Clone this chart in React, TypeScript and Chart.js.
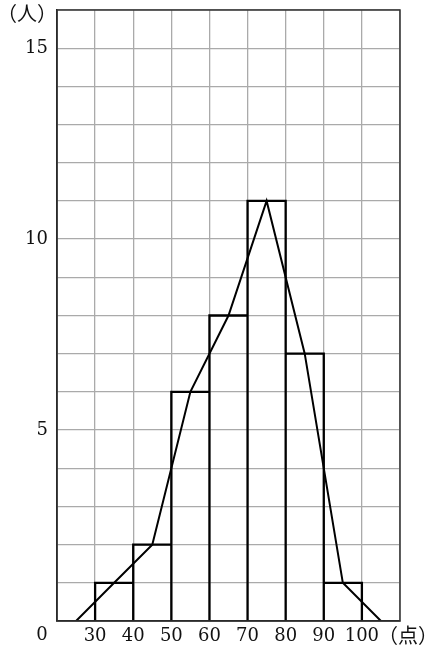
import { useEffect, useRef } from "react";
import Chart from "chart.js/auto";

// class marks (points) and number of people per 10-point class
const classMids = [35, 45, 55, 65, 75, 85, 95];
const counts = [1, 2, 6, 8, 11, 7, 1];
const classWidth = 10;

// frequency polygon, closed at the empty classes on each side
const polyX = [25, 35, 45, 55, 65, 75, 85, 95, 105];
const polyY = [0, 1, 2, 6, 8, 11, 7, 1, 0];

const xTickLabels = [30, 40, 50, 60, 70, 80, 90, 100];
const yTickLabels = [5, 10, 15];

const NUM_FONT = '"DejaVu Serif", "Noto Sans CJK JP", serif';
const CJK_FONT = '"Noto Sans CJK JP", "DejaVu Serif", sans-serif';

// outline of the histogram columns, traced bar by bar
const histOutline = classMids.flatMap((m, i) => {
  const lo = m - classWidth / 2;
  const hi = m + classWidth / 2;
  return [
    { x: lo, y: 0 },
    { x: lo, y: counts[i] },
    { x: hi, y: counts[i] },
    { x: hi, y: 0 },
  ];
});

const extraLabels = {
  id: "extraLabels",
  afterDraw(chart: Chart) {
    const { ctx, chartArea } = chart;
    ctx.save();
    // outer frame
    ctx.strokeStyle = "#333";
    ctx.lineWidth = 1.5;
    ctx.strokeRect(chartArea.left, chartArea.top, chartArea.right - chartArea.left, chartArea.bottom - chartArea.top);
    ctx.fillStyle = "#111";
    ctx.textBaseline = "middle";
    ctx.textAlign = "center";
    ctx.font = `18px ${NUM_FONT}`;
    ctx.fillText("0", chartArea.left - 15, chartArea.bottom + 14);
    ctx.font = `20px ${CJK_FONT}`;
    ctx.fillText("（点）", chartArea.right + 8, chartArea.bottom + 14);
    ctx.fillText("（人）", 27, 13);
    ctx.restore();
  },
};

const noPad = (s: any) => {
  s.paddingTop = 0;
  s.paddingBottom = 0;
  s.paddingLeft = 0;
  s.paddingRight = 0;
};

export default function App() {
  const ref = useRef<HTMLCanvasElement | null>(null);
  useEffect(() => {
    document.body.style.margin = "0";
    if (!ref.current) return;
    const ctx = ref.current.getContext("2d");
    if (!ctx) return;

    const chart = new Chart(ctx, {
      type: "line",
      data: {
        datasets: [
          {
            data: histOutline,
            borderColor: "#000",
            borderWidth: 2.3,
            borderJoinStyle: "miter",
            pointRadius: 0,
            tension: 0,
            fill: false,
          },
          {
            data: polyX.map((x, i) => ({ x, y: polyY[i] })),
            borderColor: "#000",
            borderWidth: 2,
            pointRadius: 0,
            tension: 0,
            fill: false,
          },
        ],
      },
      plugins: [extraLabels],
      options: {
        animation: false,
        responsive: true,
        maintainAspectRatio: false,
        layout: { padding: { left: 0, top: 10, right: 34, bottom: 0 } },
        plugins: { legend: { display: false }, tooltip: { enabled: false } },
        scales: {
          x: {
            type: "linear",
            min: 20,
            max: 110,
            offset: false,
            grid: { color: "#aaa", lineWidth: 1.3, drawTicks: false },
            border: { display: true, color: "#111", width: 1.5 },
            ticks: {
              stepSize: 10,
              padding: 5,
              color: "#111",
              font: { family: NUM_FONT, size: 18 },
              maxRotation: 0,
              autoSkip: false,
              callback: (v) => (xTickLabels.includes(Number(v)) ? String(v) : ""),
            },
            afterFit: (s) => {
              s.height = 26;
              noPad(s);
            },
          },
          y: {
            min: 0,
            max: 16,
            grid: { color: "#aaa", lineWidth: 1.3, drawTicks: false },
            border: { display: true, color: "#111", width: 1.5 },
            ticks: {
              stepSize: 1,
              padding: 9,
              color: "#111",
              font: { family: NUM_FONT, size: 18 },
              autoSkip: false,
              callback: (v) => (yTickLabels.includes(Number(v)) ? String(v) : ""),
            },
            afterFit: (s) => {
              s.width = 57;
              noPad(s);
            },
          },
        },
      },
    });
    return () => chart.destroy();
  }, []);
  return (
    <div style={{ position: "relative", width: 434, height: 647 }}>
      <canvas ref={ref} />
    </div>
  );
}
